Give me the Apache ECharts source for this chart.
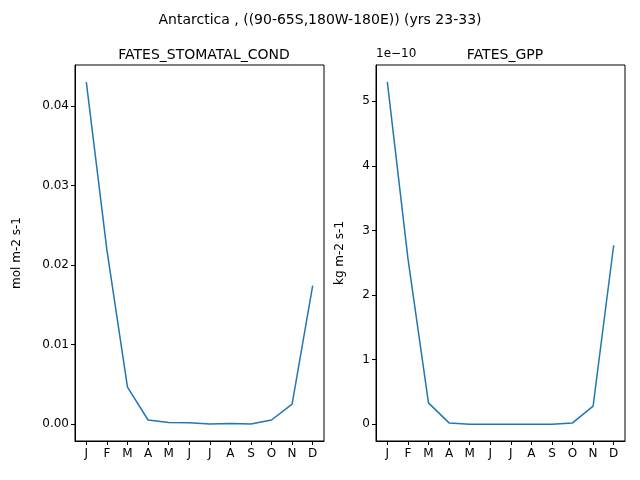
<!DOCTYPE html>
<html><head><meta charset="utf-8">
<script src="https://cdn.jsdelivr.net/npm/echarts@6/dist/echarts.min.js"></script>
<style>body{margin:0}#main{width:640px;height:480px}</style>
</head><body><div id="main"></div>
<script>
const months = ['J','F','M','A','M','J','J','A','S','O','N','D'];
const stomatalCond = [0.0430, 0.0219, 0.00465, 0.0005, 0.0002, 0.00015, 0.0, 0.00005, 0.0, 0.0005, 0.0025, 0.0174];
const gpp = [5.30e-10, 2.57e-10, 0.33e-10, 0.02e-10, 0.0, 0.0, 0.0, 0.0, 0.0, 0.02e-10, 0.28e-10, 2.77e-10];
const condTicks = [0, 0.01, 0.02, 0.03, 0.04];
const gppTicks = [0, 1e-10, 2e-10, 3e-10, 4e-10, 5e-10];
const monthTicks = [0, 1, 2, 3, 4, 5, 6, 7, 8, 9, 10, 11];

const font = 'DejaVu Sans';
const blue = '#1f77b4';
let myChart = echarts.init(document.getElementById('main'));

function xAxis(i) {
    return {
        type: 'value', gridIndex: i, min: -0.55, max: 11.55,
        axisLine: {onZero: false, lineStyle: {color: '#000'}},
        axisTick: {length: 4, lineStyle: {color: '#000'}, customValues: monthTicks},
        axisLabel: {color: '#000', fontFamily: font, fontSize: 12, margin: 7,
            customValues: monthTicks, formatter: v => months[Math.round(v)]},
        splitLine: {show: false}
    };
}
function yAxis(i, min, max, ticks, name, fmt) {
    return {
        type: 'value', gridIndex: i, min: min, max: max,
        name: name, nameLocation: 'middle', nameGap: i === 0 ? 52 : 30,
        nameTextStyle: {color: '#000', fontFamily: font, fontSize: 12},
        axisLine: {show: true, onZero: false, lineStyle: {color: '#000'}},
        axisTick: {show: true, length: 4, lineStyle: {color: '#000'}, customValues: ticks},
        axisLabel: {color: '#000', fontFamily: font, fontSize: 12, margin: 6,
            customValues: ticks, formatter: fmt},
        splitLine: {show: false}
    };
}

const titleStyle = {fontFamily: font, fontSize: 14, fontWeight: 'normal', color: '#000'};
let option = {
    animation: false,
    backgroundColor: '#fff',
    title: [
        {text: 'Antarctica , ((90-65S,180W-180E)) (yrs 23-33)', left: 'center', top: 8, textStyle: titleStyle},
        {text: 'FATES_STOMATAL_COND', left: 199, textAlign: 'center', top: 43, textStyle: titleStyle},
        {text: 'FATES_GPP', left: 500, textAlign: 'center', top: 43, textStyle: titleStyle}
    ],
    graphic: [{type: 'text', left: 376, top: 48,
        style: {text: '1e\u221210', font: '12px "DejaVu Sans"', fill: '#000'}}],
    grid: [
        {left: 75, right: 316, top: 65, bottom: 39, show: true, borderColor: '#000', borderWidth: 1},
        {left: 376, right: 15, top: 65, bottom: 39, show: true, borderColor: '#000', borderWidth: 1}
    ],
    xAxis: [xAxis(0), xAxis(1)],
    yAxis: [
        yAxis(0, -0.00214, 0.04516, condTicks, 'mol m-2 s-1', v => v.toFixed(2)),
        yAxis(1, -0.26e-10, 5.56e-10, gppTicks, 'kg m-2 s-1', v => String(Math.round(v / 1e-10)))
    ],
    series: [
        {type: 'line', xAxisIndex: 0, yAxisIndex: 0, showSymbol: false,
            lineStyle: {color: blue, width: 1.5}, data: stomatalCond.map((v, i) => [i, v])},
        {type: 'line', xAxisIndex: 1, yAxisIndex: 1, showSymbol: false,
            lineStyle: {color: blue, width: 1.5}, data: gpp.map((v, i) => [i, v])}
    ]
};
myChart.setOption(option);
</script></body></html>
